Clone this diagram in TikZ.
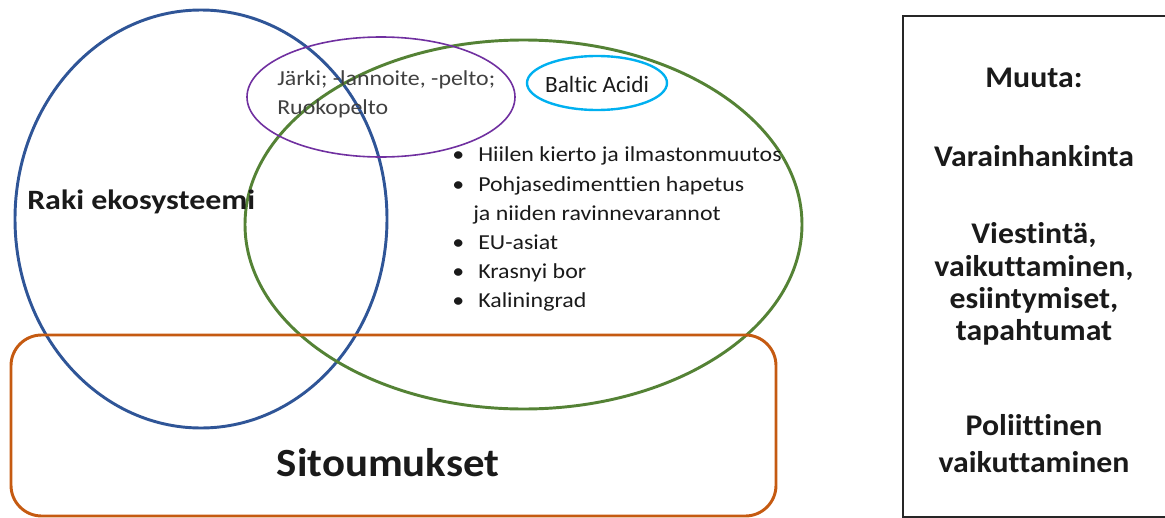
\documentclass[tikz,border=0pt]{standalone}
\usepackage{fontspec}
\setmainfont[Ligatures={NoCommon}]{Carlito}
\newfontfamily\listfont[FakeStretch=1.12,Ligatures={NoCommon}]{Carlito}
\newfontfamily\rakifont[FakeStretch=1.14,Ligatures={NoCommon}]{Carlito}
\newfontfamily\sitofont[FakeStretch=1.07,Ligatures={NoCommon}]{Carlito}
\newfontfamily\boxfont[FakeStretch=1.06,Ligatures={NoCommon}]{Carlito}
\definecolor{cblue}{HTML}{2F5597}
\definecolor{cgreen}{HTML}{548235}
\definecolor{cpurple}{HTML}{7030A0}
\definecolor{ccyan}{HTML}{00B0F0}
\definecolor{corange}{HTML}{C55A11}
\definecolor{cbox}{HTML}{262626}
\definecolor{ctext}{HTML}{1A1A1A}
\definecolor{cgrey}{HTML}{404040}
\begin{document}
\begin{tikzpicture}[x=0.75pt,y=-0.75pt,
  bigbold/.style={font=\rakifont\fontsize{21}{25}\selectfont\bfseries, text=ctext, inner sep=0pt},
  hugebold/.style={font=\sitofont\fontsize{30}{36}\selectfont\bfseries, text=ctext, inner sep=0pt},
  listtxt/.style={font=\listfont\fontsize{16}{19}\selectfont, text=ctext, inner sep=0pt, anchor=base west},
  smalltxt/.style={font=\listfont\fontsize{16}{19}\selectfont, text=cgrey, inner sep=0pt, anchor=base west},
  boxtxt/.style={font=\boxfont\fontsize{22.5}{27}\selectfont\bfseries, text=ctext, inner sep=0pt, anchor=base}]
\useasboundingbox (0,0) rectangle (1165,518);
% shapes
\draw[cblue, line width=2.2pt] (201,219) ellipse [x radius=186, y radius=209];
\draw[cgreen, line width=2.2pt] (523.5,224.5) ellipse [x radius=278.5, y radius=184.5];
\draw[cpurple, line width=1.2pt] (381,97) ellipse [x radius=134, y radius=60];
\draw[ccyan, line width=1.8pt] (597,83) ellipse [x radius=70, y radius=27];
\draw[corange, line width=2.2pt, rounded corners=23pt] (11,335) rectangle (776,516);
\draw[cbox, line width=2.2pt] (903,16) rectangle (1180,517);
% texts
\node[bigbold, anchor=base west] (raki) at (27,209) {Raki ekosysteemi};
\node[hugebold, anchor=base] (sito) at (388,476) {Sitoumukset};
\node[smalltxt] (jarki) at (277,85) {Järki; -lannoite, -pelto;};
\node[smalltxt] (ruoko) at (277,114) {Ruokopelto};
\node[font=\fontsize{17.5}{21}\selectfont, text=ctext, inner sep=0pt, anchor=base] (baltic) at (597,92) {Baltic Acidi};
\node[listtxt] (b1) at (452,161) {•};
\node[listtxt] (l1) at (478,161) {Hiilen kierto ja ilmastonmuutos};
\node[listtxt] (b2) at (452,191) {•};
\node[listtxt] (l2) at (478,191) {Pohjasedimenttien hapetus};
\node[listtxt] (l2b) at (473,220) {ja niiden ravinnevarannot};
\node[listtxt] (b3) at (452,249) {•};
\node[listtxt] (l3) at (478,249) {EU-asiat};
\node[listtxt] (b4) at (452,278) {•};
\node[listtxt] (l4) at (478,278) {Krasnyi bor};
\node[listtxt] (b5) at (452,307) {•};
\node[listtxt] (l5) at (478,307) {Kaliningrad};
\node[boxtxt] (m1) at (1034,87) {Muuta:};
\node[boxtxt] (m2) at (1034,166) {Varainhankinta};
\node[boxtxt] (m3) at (1034,243) {Viestintä,};
\node[boxtxt] (m4) at (1034,276) {vaikuttaminen,};
\node[boxtxt] (m5) at (1034,308) {esiintymiset,};
\node[boxtxt] (m6) at (1034,340) {tapahtumat};
\node[boxtxt] (m7) at (1034,435) {Poliittinen};
\node[boxtxt] (m8) at (1034,472) {vaikuttaminen};
\end{tikzpicture}
\end{document}
